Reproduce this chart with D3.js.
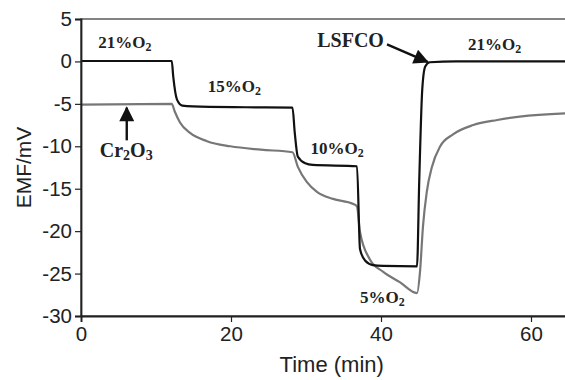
<!DOCTYPE html>
<html>
<head>
<meta charset="utf-8">
<script src="https://cdn.jsdelivr.net/npm/d3@7"></script>
<style>
  body { margin: 0; background: #fff; }
</style>
</head>
<body>
<script>
// LSFCO sensor (black)
const timeLsfco = [0, 12.1, 12.3, 12.8, 13.5, 14.9, 22, 28.2, 28.5, 28.9, 29.9, 30.9, 36.8, 37.2, 37.9, 38.9, 40.3, 44.8, 45.1, 45.5, 45.9, 46.5, 50, 65];
const emfLsfco  = [0.05, 0.05, -1.8, -4.5, -5.2, -5.3, -5.4, -5.45, -8.4, -11.2, -12.0, -12.2, -12.35, -22.1, -23.5, -24.0, -24.1, -24.15, -14, -3.3, -0.6, -0.1, 0, 0];

// Cr2O3 sensor (grey)
const timeCr = [0, 12.1, 12.5, 13.2, 14.5, 16.8, 19.9, 24, 28.2, 28.9, 30.1, 31.5, 33.6, 36.3, 36.8, 37.2, 38.5, 40.3, 42.5, 44.8, 45.2, 45.6, 46.1, 46.8, 47.9, 49.6, 52.3, 55.5, 58.5, 65];
const emfCr  = [-5.1, -5.0, -5.9, -7.2, -8.4, -9.4, -10.0, -10.4, -10.7, -12.4, -14.2, -15.4, -16.2, -16.8, -17.1, -20.1, -23.3, -24.8, -26.0, -27.3, -24.8, -19.4, -15.4, -12.4, -10.0, -8.6, -7.5, -6.9, -6.5, -6.1];

const xTicks = [0, 20, 40, 60];
const yTicks = [5, 0, -5, -10, -15, -20, -25, -30];

// annotations: position in data units, text parts as [string, isSubscript]
const notes = [
  { t: 2.3, v: 1.6, parts: [['21%O', 0], ['2', 1]], size: 17 },
  { t: 16.9, v: -3.65, parts: [['15%O', 0], ['2', 1]], size: 17 },
  { t: 30.6, v: -10.9, parts: [['10%O', 0], ['2', 1]], size: 17 },
  { t: 37.2, v: -28.5, parts: [['5%O', 0], ['2', 1]], size: 17 },
  { t: 51.6, v: 1.4, parts: [['21%O', 0], ['2', 1]], size: 17 },
  { t: 2.5, v: -11.3, parts: [['Cr', 0], ['2', 1], ['O', 0], ['3', 1]], size: 20 },
  { t: 31.5, v: 1.75, parts: [['LSFCO', 0]], size: 20 }
];

const width = 565, height = 380;
const margin = { top: 19, right: -3.5, bottom: 64, left: 81 };

const svg = d3.select('body').append('svg')
  .attr('width', width).attr('height', height);

const x = d3.scaleLinear().domain([0, 65]).range([margin.left, width - margin.right]);
const y = d3.scaleLinear().domain([-30, 5]).range([height - margin.bottom, margin.top]);

// frame
svg.append('rect')
  .attr('x', x(0)).attr('y', y(5))
  .attr('width', x(65) - x(0)).attr('height', y(-30) - y(5))
  .attr('fill', 'none').attr('stroke', '#333').attr('stroke-width', 1.2);

const line = d3.line().curve(d3.curveMonotoneX).x(d => x(d[0])).y(d => y(d[1]));

svg.append('path')
  .datum(d3.zip(timeCr, emfCr))
  .attr('fill', 'none').attr('stroke', '#777').attr('stroke-width', 2.2)
  .attr('d', line);

svg.append('path')
  .datum(d3.zip(timeLsfco, emfLsfco))
  .attr('fill', 'none').attr('stroke', '#111').attr('stroke-width', 2.2)
  .attr('d', line);

// axes
const xAxis = svg.append('g')
  .attr('transform', `translate(0,${y(-30)})`)
  .call(d3.axisBottom(x).tickValues(xTicks).tickSize(6).tickPadding(4));
const yAxis = svg.append('g')
  .attr('transform', `translate(${x(0)},0)`)
  .call(d3.axisLeft(y).tickValues(yTicks).tickSize(6).tickPadding(3).tickFormat(d => String(d)));

[xAxis, yAxis].forEach(g => {
  g.select('.domain').attr('stroke', '#222').attr('stroke-width', 1.8);
  g.selectAll('.tick line').attr('stroke', '#222').attr('stroke-width', 1.2);
  g.selectAll('.tick text')
    .attr('fill', '#222')
    .attr('font-family', 'Liberation Sans, Arial, sans-serif')
    .attr('font-size', 20.5);
});

svg.append('text')
  .attr('x', (x(0) + x(65)) / 2 + 7).attr('y', 372)
  .attr('text-anchor', 'middle')
  .attr('font-family', 'Liberation Sans, Arial, sans-serif')
  .attr('font-size', 22).attr('fill', '#222')
  .text('Time (min)');

svg.append('text')
  .attr('transform', `translate(31,${(y(5) + y(-30)) / 2}) rotate(-90)`)
  .attr('text-anchor', 'middle')
  .attr('font-family', 'Liberation Sans, Arial, sans-serif')
  .attr('font-size', 21).attr('fill', '#222')
  .text('EMF/mV');

// text annotations
notes.forEach(n => {
  const txt = svg.append('text')
    .attr('x', x(n.t)).attr('y', y(n.v))
    .attr('font-family', 'Liberation Serif, Times New Roman, serif')
    .attr('font-weight', 'bold')
    .attr('font-size', n.size).attr('fill', '#222');
  let lowered = false;
  n.parts.forEach(([s, sub]) => {
    const dy = sub ? (lowered ? 0 : 3) : (lowered ? -3 : 0);
    lowered = !!sub;
    txt.append('tspan')
      .attr('font-size', sub ? n.size * 0.7 : n.size)
      .attr('dy', dy)
      .text(s);
  });
});

// arrows
svg.append('defs').append('marker')
  .attr('id', 'head').attr('viewBox', '0 0 10 10')
  .attr('refX', 9).attr('refY', 5)
  .attr('markerWidth', 17).attr('markerHeight', 15)
  .attr('markerUnits', 'userSpaceOnUse')
  .attr('orient', 'auto')
  .append('path').attr('d', 'M0,0 L10,5 L0,10 Z').attr('fill', '#111');

svg.append('line')
  .attr('x1', x(6.1)).attr('y1', y(-9.3))
  .attr('x2', x(6.1)).attr('y2', y(-5.45))
  .attr('stroke', '#111').attr('stroke-width', 2.4)
  .attr('marker-end', 'url(#head)');

svg.append('line')
  .attr('x1', x(40.8)).attr('y1', y(2.0))
  .attr('x2', x(46.2)).attr('y2', y(-0.05))
  .attr('stroke', '#111').attr('stroke-width', 2.4)
  .attr('marker-end', 'url(#head)');
</script>
</body>
</html>
